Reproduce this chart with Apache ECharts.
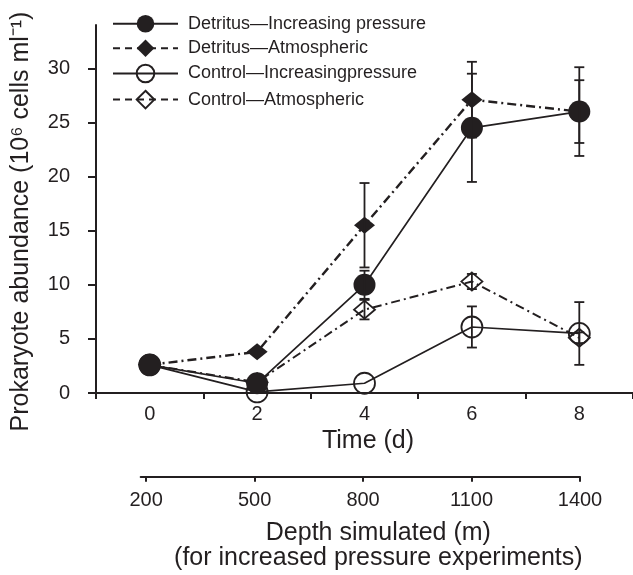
<!DOCTYPE html>
<html>
<head>
<meta charset="utf-8">
<script src="https://cdn.jsdelivr.net/npm/echarts@6/dist/echarts.min.js"></script>
<style>
html, body { margin: 0; padding: 0; background: #fff; }
#chart { width: 633px; height: 575px; }
</style>
</head>
<body>
<div id="chart"></div>
<script>
// values (time in days, abundance in 10^6 cells/ml)
var days = [0, 2, 4, 6, 8];
var detInc = [2.6, 0.9, 10.0, 24.5, 26.0];
var detIncErr = [0, 0, 1.3, 5.0, 4.1];
var detAtm = [2.6, 3.8, 15.5, 27.1, 26.0];
var detAtmErr = [0, 0, 3.9, 3.5, 2.9];
var ctrlInc = [2.6, 0.1, 0.9, 6.1, 5.5];
var ctrlIncErr = [0, 0, 0, 1.9, 2.9];
var ctrlAtm = [2.6, 1.0, 7.7, 10.3, 5.1];
var ctrlAtmErr = [0, 0, 0.9, 0.7, 0.5];

var timeTicks = [-1, 1, 3, 5, 7, 9];
var timeLabels = [0, 2, 4, 6, 8];
var yTicks = [0, 5, 10, 15, 20, 25, 30];
var depthTicks = [200, 500, 800, 1100, 1400];

var names = ["Detritus—Increasing pressure", "Detritus—Atmospheric",
             "Control—Increasingpressure", "Control—Atmospheric"];

var ink = "#231f20";
var font = "Liberation Sans, Arial, Helvetica, sans-serif";

function pts(vals) {
    return days.map(function(d, i) { return [d, vals[i]] })
}
function plain(v) { return String(v) }

// error bars: [x, low, high]
var bars = [];
[[detInc, detIncErr], [detAtm, detAtmErr], [ctrlInc, ctrlIncErr], [ctrlAtm, ctrlAtmErr]].forEach(function(p) {
    days.forEach(function(d, i) {
        if (p[1][i] > 0) bars.push([d, p[0][i] - p[1][i], p[0][i] + p[1][i]])
    })
})

var dashDot = [9, 4, 2, 4];

var chart = echarts.init(document.getElementById("chart"));
chart.setOption({
    animation: false,
    textStyle: {fontFamily: font, color: ink},
    grid: [
        {left: 96, right: 0, top: 25, bottom: 182},
        {left: 140.7, width: 439.3, top: 475.7, height: 1}
    ],
    legend: {
        orient: "vertical", left: 107, top: 9.7,
        itemWidth: 65, itemHeight: 22, itemGap: 6.5,
        selectedMode: false,
        textStyle: {fontSize: 18, color: ink, fontFamily: font, padding: [0, 0, 0, 5]},
        data: [
            {name: names[0], lineStyle: {width: 2}},
            {name: names[1], lineStyle: {type: [7, 5], width: 2}},
            {name: names[2], lineStyle: {width: 2}},
            {name: names[3], lineStyle: {type: [7, 5], width: 2}}
        ]
    },
    xAxis: [{
        type: "value", gridIndex: 0, min: -1, max: 9,
        axisLine: {show: true, onZero: false, lineStyle: {color: ink, width: 2}},
        axisTick: {show: true, customValues: timeTicks, length: 6, lineStyle: {color: ink, width: 2}},
        axisLabel: {customValues: timeLabels, formatter: plain, fontSize: 20, color: ink, margin: 11, fontFamily: font},
        splitLine: {show: false},
        name: "Time (d)", nameLocation: "middle", nameGap: 34,
        nameTextStyle: {fontSize: 25, color: ink, fontFamily: font, padding: [0, 0, 0, 7]}
    }, {
        type: "value", gridIndex: 1, min: 185, max: 1400, position: "bottom",
        axisLine: {show: true, onZero: false, lineStyle: {color: ink, width: 2}},
        axisTick: {show: true, customValues: depthTicks, length: 5, lineStyle: {color: ink, width: 2}},
        axisLabel: {customValues: depthTicks, formatter: plain, fontSize: 20, color: ink, margin: 13.5, fontFamily: font},
        splitLine: {show: false},
        name: "Depth simulated (m)\n(for increased pressure experiments)",
        nameLocation: "middle", nameGap: 44,
        nameTextStyle: {fontSize: 25, lineHeight: 25, color: ink, fontFamily: font, padding: [0, 0, 0, 36]}
    }],
    yAxis: [{
        type: "value", gridIndex: 0, min: 0, max: 34,
        axisLine: {show: true, onZero: false, lineStyle: {color: ink, width: 2}},
        axisTick: {show: true, customValues: yTicks, length: 8, lineStyle: {color: ink, width: 2}},
        axisLabel: {customValues: yTicks, formatter: plain, fontSize: 20, color: ink, margin: 26, fontFamily: font},
        splitLine: {show: false},
        name: "Prokaryote abundance (10⁶ cells ml⁻¹)", nameLocation: "middle", nameGap: 62,
        nameTextStyle: {fontSize: 25, color: ink, fontFamily: font, padding: [0, 25, 0, 0]}
    }, {
        type: "value", gridIndex: 1, min: 0, max: 1, show: false
    }],
    series: [{
        name: names[2], type: "line", data: pts(ctrlInc),
        symbol: "circle", symbolSize: 21,
        itemStyle: {color: "rgba(255,255,255,0)", borderColor: ink, borderWidth: 1.8},
        lineStyle: {color: ink, width: 1.7}
    }, {
        name: names[3], type: "line", data: pts(ctrlAtm),
        symbol: "diamond", symbolSize: [21, 18],
        itemStyle: {color: "rgba(255,255,255,0)", borderColor: ink, borderWidth: 1.8},
        lineStyle: {color: ink, width: 2, type: dashDot}
    }, {
        name: names[1], type: "line", data: pts(detAtm),
        symbol: "diamond", symbolSize: [21, 17],
        itemStyle: {color: ink},
        lineStyle: {color: ink, width: 2.4, type: dashDot}
    }, {
        name: names[0], type: "line", data: pts(detInc),
        symbol: "circle", symbolSize: 22,
        itemStyle: {color: ink},
        lineStyle: {color: ink, width: 1.7}
    }, {
        type: "custom", data: bars, z: 5,
        encode: {x: 0, y: [1, 2]},
        renderItem: function(params, api) {
            var lo = api.coord([api.value(0), api.value(1)]);
            var hi = api.coord([api.value(0), api.value(2)]);
            var w = 5, st = {stroke: ink, lineWidth: 1.8};
            return {type: "group", children: [
                {type: "line", shape: {x1: lo[0], y1: lo[1], x2: hi[0], y2: hi[1]}, style: st},
                {type: "line", shape: {x1: lo[0] - w, y1: lo[1], x2: lo[0] + w, y2: lo[1]}, style: st},
                {type: "line", shape: {x1: hi[0] - w, y1: hi[1], x2: hi[0] + w, y2: hi[1]}, style: st}
            ]}
        }
    }]
});
</script>
</body>
</html>
